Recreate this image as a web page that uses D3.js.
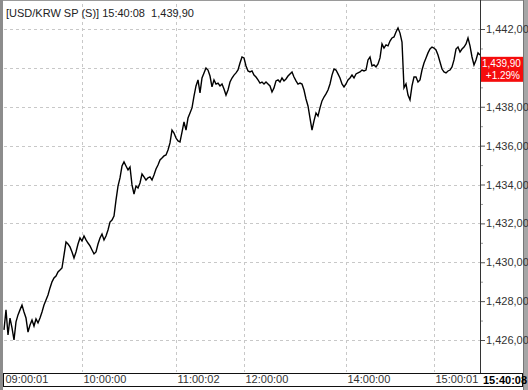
<!DOCTYPE html>
<html>
<head>
<meta charset="utf-8">
<script src="https://cdn.jsdelivr.net/npm/d3@7"></script>
<style>
  html, body { margin: 0; padding: 0; background: #fff; }
  svg { display: block; font-family: "Liberation Sans", "DejaVu Sans", sans-serif; }
</style>
</head>
<body>
<div id="chart"></div>
<script>
// USD/KRW spot, intraday tick chart (one value every ~2px of the original)

var title = '[USD/KRW SP (S)] 15:40:08  1,439,90';
var lastPrice = 1439.90;
var lastChange = '+1.29%';
var lastTime = '15:40:08';

var priceTicks = [1426, 1428, 1430, 1432, 1434, 1436, 1438, 1440, 1442];
var minorTicks = [1427, 1429, 1431, 1433, 1435, 1437, 1439, 1441];

// index into prices[] where each time label sits
var timeTickIdx = [0, 39, 86, 120, 171, 215];
var timeTickLabels = ['09:00:01', '10:00:00', '11:00:02', '12:00:00', '14:00:00', '15:00:01'];

var prices = [
  1426.52, 1427.55, 1426.26, 1427.13, 1426.62, 1426.00, 1426.93, 1427.29, 1427.55, 1427.80,
  1427.44, 1427.13, 1426.41, 1426.77, 1427.03, 1426.72, 1427.08, 1426.88, 1427.13, 1427.44,
  1427.80, 1428.06, 1428.32, 1428.68, 1428.99, 1429.19, 1429.29, 1429.50, 1429.60, 1429.71,
  1430.37, 1431.04, 1430.94, 1430.79, 1430.53, 1430.22, 1430.53, 1430.94, 1431.25, 1431.09,
  1431.35, 1431.15, 1430.99, 1430.84, 1430.63, 1430.43, 1430.53, 1430.94, 1431.25, 1431.45,
  1431.15, 1431.35, 1431.66, 1432.07, 1432.17, 1432.38, 1433.20, 1433.92, 1434.34, 1434.95,
  1435.16, 1434.95, 1434.75, 1434.90, 1433.98, 1433.51, 1433.92, 1433.82, 1434.08, 1434.54,
  1434.39, 1434.23, 1434.34, 1434.39, 1434.23, 1434.49, 1434.80, 1435.00, 1435.26, 1435.36,
  1435.47, 1435.52, 1435.78, 1436.14, 1436.80, 1436.65, 1436.39, 1436.24, 1436.19, 1436.70,
  1437.22, 1436.80, 1437.42, 1437.68, 1437.94, 1438.55, 1439.07, 1439.38, 1438.71, 1439.48,
  1439.74, 1439.99, 1439.89, 1439.58, 1439.02, 1439.38, 1439.17, 1439.22, 1439.07, 1439.17,
  1438.91, 1438.60, 1438.86, 1439.27, 1439.48, 1439.63, 1439.74, 1439.89, 1440.25, 1440.56,
  1440.51, 1440.10, 1439.84, 1439.79, 1439.84, 1439.63, 1439.53, 1439.38, 1439.22, 1439.27,
  1439.17, 1439.27, 1439.17, 1439.07, 1438.76, 1438.97, 1439.33, 1439.38, 1439.27, 1439.48,
  1439.33, 1439.43, 1439.58, 1439.69, 1439.79, 1439.53, 1439.33, 1439.17, 1439.22, 1439.17,
  1438.86, 1438.40, 1438.04, 1437.42, 1436.80, 1437.27, 1437.68, 1437.52, 1437.94, 1438.30,
  1438.50, 1438.66, 1438.86, 1439.17, 1439.63, 1439.94, 1439.89, 1439.69, 1439.48, 1439.17,
  1439.02, 1439.17, 1439.38, 1439.48, 1439.63, 1439.48, 1439.69, 1439.74, 1439.79, 1439.89,
  1439.84, 1439.89, 1440.41, 1440.56, 1440.10, 1440.15, 1440.05, 1440.20, 1440.51, 1441.23,
  1441.02, 1441.18, 1441.13, 1441.38, 1441.54, 1441.59, 1441.85, 1442.05, 1441.79, 1441.33,
  1438.97, 1439.17, 1438.60, 1438.35, 1439.07, 1439.53, 1439.53, 1439.27, 1439.38, 1439.89,
  1440.25, 1440.51, 1440.77, 1440.97, 1441.07, 1441.02, 1440.92, 1440.66, 1440.30, 1439.94,
  1439.79, 1439.74, 1439.84, 1439.89, 1440.05, 1440.41, 1440.97, 1441.07, 1440.82, 1440.97,
  1441.07, 1441.23, 1441.54, 1441.13, 1440.56, 1440.15, 1440.41, 1440.77, 1440.66
];

var W = 528, H = 390;
var plotL = 4, plotR = 480, plotT = 4, plotB = 372;

var svg = d3.select('#chart').append('svg')
  .attr('width', W)
  .attr('height', H);

var x = d3.scaleLinear().domain([0, prices.length - 1]).range([plotL, plotR]);
var y = d3.scaleLinear().domain([1426, 1442]).range([340, 29]);

var fmt = function(v) { return d3.format(',.2f')(v).replace('.', ','); };

// ── Frame ─────────────────────────────────────────────────────────────────────
svg.append('rect').attr('width', W).attr('height', H).attr('fill', '#fff');
svg.append('line')
  .attr('x1', 0).attr('x2', W).attr('y1', 0.5).attr('y2', 0.5)
  .attr('stroke', '#9a9a9a');
svg.append('rect').attr('x', 0).attr('y', 0).attr('width', 3).attr('height', H).attr('fill', '#8c8c8c');
svg.append('rect').attr('x', 523).attr('y', 0).attr('width', 5).attr('height', H).attr('fill', '#a6a6a6');
svg.append('line')
  .attr('x1', 523.5).attr('x2', 523.5).attr('y1', 0).attr('y2', H)
  .attr('stroke', '#777');

// ── Grid ──────────────────────────────────────────────────────────────────────
svg.append('g').selectAll('line')
  .data(priceTicks)
  .enter().append('line')
  .attr('x1', plotL).attr('x2', plotR)
  .attr('y1', function(d) { return Math.round(y(d)) + 0.5; })
  .attr('y2', function(d) { return Math.round(y(d)) + 0.5; })
  .attr('stroke', '#c8c8c8')
  .attr('stroke-dasharray', '3,3');

svg.append('g').selectAll('line')
  .data(timeTickIdx.slice(1))
  .enter().append('line')
  .attr('x1', function(d) { return Math.round(x(d)) + 0.5; })
  .attr('x2', function(d) { return Math.round(x(d)) + 0.5; })
  .attr('y1', plotT).attr('y2', plotB)
  .attr('stroke', '#c8c8c8')
  .attr('stroke-dasharray', '3,3');

// ── Price line ────────────────────────────────────────────────────────────────
var line = d3.line()
  .x(function(d, i) { return x(i); })
  .y(function(d) { return y(d); });

svg.append('path')
  .datum(prices)
  .attr('d', line)
  .attr('fill', 'none')
  .attr('stroke', '#000')
  .attr('stroke-width', 1.4)
  .attr('stroke-linejoin', 'miter');

// ── Right price axis ──────────────────────────────────────────────────────────
svg.append('line')
  .attr('x1', plotR + 0.5).attr('x2', plotR + 0.5)
  .attr('y1', 0).attr('y2', 373)
  .attr('stroke', '#333');

// the 1,440,00 label sits under the last-price box, so it is left blank
var yAxis = svg.append('g')
  .attr('transform', 'translate(' + (plotR + 1) + ',0)')
  .call(d3.axisRight(y).tickValues(priceTicks).tickSize(4).tickPadding(1)
    .tickFormat(function(d) { return Math.abs(d - lastPrice) < 1 ? '' : fmt(d); }));
yAxis.select('.domain').remove();
yAxis.selectAll('line').attr('stroke', '#555');
yAxis.selectAll('text')
  .attr('fill', '#333')
  .style('font-size', '11px')
  .style('font-family', '"Liberation Sans", "DejaVu Sans", sans-serif');

var yMinor = svg.append('g')
  .attr('transform', 'translate(' + (plotR + 1) + ',0)')
  .call(d3.axisRight(y).tickValues(minorTicks).tickSize(2).tickFormat(''));
yMinor.select('.domain').remove();
yMinor.selectAll('line').attr('stroke', '#999');

// last price box
var boxY = y(lastPrice);
svg.append('rect')
  .attr('x', 481).attr('y', boxY - 13)
  .attr('width', 42).attr('height', 25)
  .attr('fill', '#f50d0d');
svg.append('text')
  .attr('x', 482).attr('y', boxY - 3)
  .attr('fill', '#fff')
  .style('font-size', '10px')
  .text(fmt(lastPrice));
svg.append('text')
  .attr('x', 520).attr('y', boxY + 9)
  .attr('text-anchor', 'end')
  .attr('fill', '#fff')
  .style('font-size', '10px')
  .text(lastChange);

// ── Time axis band ────────────────────────────────────────────────────────────
svg.append('rect')
  .attr('x', 3.5).attr('y', 373.5)
  .attr('width', 519).attr('height', 13)
  .attr('fill', '#fff')
  .attr('stroke', '#111');

var xAxis = svg.append('g')
  .attr('transform', 'translate(0,' + 373 + ')')
  .call(d3.axisBottom(x).tickValues(timeTickIdx).tickSize(0).tickPadding(2)
    .tickFormat(function(d, i) { return timeTickLabels[i]; }));
xAxis.select('.domain').remove();
xAxis.selectAll('text')
  .attr('text-anchor', 'start')
  .attr('dx', 1)
  .attr('fill', '#333')
  .style('font-size', '11px')
  .style('font-family', '"Liberation Sans", "DejaVu Sans", sans-serif');

svg.append('text')
  .attr('x', 483).attr('y', 384)
  .attr('fill', '#000')
  .style('font-size', '11px')
  .style('font-weight', 'bold')
  .text(lastTime);

// ── Title ─────────────────────────────────────────────────────────────────────
svg.append('text')
  .attr('x', 6).attr('y', 17)
  .attr('fill', '#222')
  .style('font-size', '11px')
  .style('white-space', 'pre')
  .text(title);
</script>
</body>
</html>
